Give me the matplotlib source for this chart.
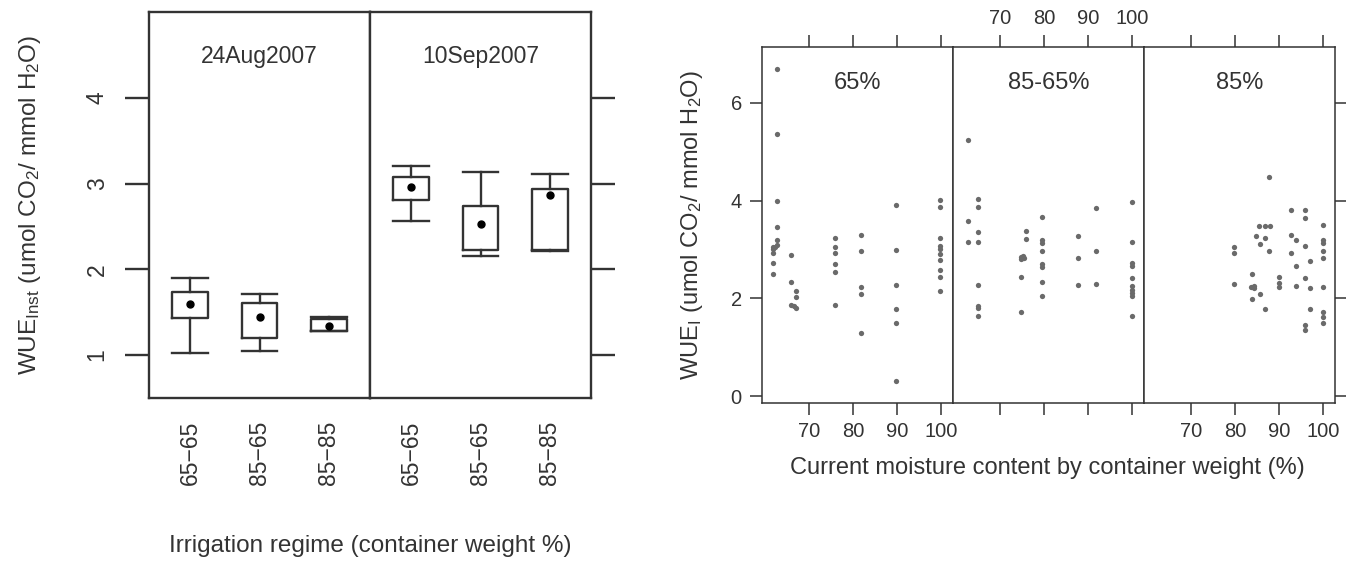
import matplotlib.pyplot as plt
import numpy as np

plt.rcParams["font.family"] = ["Liberation Sans", "DejaVu Sans"]
plt.rcParams["mathtext.default"] = "regular"

# left chart: box summaries per sampling date and irrigation regime
dates = ["24Aug2007", "10Sep2007"]
regimes = ["65\u221265", "85\u221265", "85\u221285"]
whis_hi = [[1.90, 1.71, 1.45], [3.21, 3.135, 3.11]]
q3 = [[1.735, 1.605, 1.42], [3.08, 2.735, 2.94]]
medians = [[1.60, 1.44, 1.345], [2.96, 2.53, 2.87]]
q1 = [[1.434, 1.196, 1.285], [2.81, 2.225, 2.225]]
whis_lo = [[1.03, 1.045, 1.285], [2.56, 2.16, 2.21]]

# right chart: WUE_I against current moisture content, one panel per regime
moist_65 = [62.8, 62.8, 62.8, 62.8, 62.8, 62.8,
            61.9, 61.9, 61.9, 61.9, 61.9, 62.3,
            66.0, 66.0, 66.0, 66.5, 67.0, 67.0, 67.0,
            75.8, 75.8, 75.8, 75.8, 75.8, 75.8,
            81.7, 81.7, 81.7, 81.7, 81.7,
            89.7, 89.7, 89.7, 89.7, 89.7, 89.7,
            99.8, 99.8, 99.8, 99.8, 99.8, 99.8, 99.8, 99.8, 99.8, 99.8]
wue_65 = [6.70, 5.37, 4.00, 3.45, 3.19, 3.09,
          3.04, 3.00, 2.93, 2.73, 2.50, 3.06,
          2.89, 2.34, 1.87, 1.84, 2.15, 2.03, 1.80,
          3.23, 3.04, 2.93, 2.70, 2.53, 1.86,
          3.29, 2.96, 2.23, 2.08, 1.30,
          3.90, 2.99, 2.28, 1.79, 1.49, 0.32,
          4.01, 3.86, 3.23, 3.08, 3.01, 2.91, 2.79, 2.58, 2.44, 2.15]

moist_8565 = [62.8, 62.8, 62.8,
              64.9, 64.9, 64.9, 64.9, 64.9, 64.9, 64.9, 64.9,
              74.7, 74.7, 74.7, 74.7, 75.2, 75.5, 75.8, 75.8,
              79.6, 79.6, 79.6, 79.6, 79.6, 79.6, 79.6, 79.6,
              87.7, 87.7, 87.7,
              91.9, 91.9, 91.9,
              99.9, 99.9, 99.9, 99.9, 99.9, 99.9, 99.9, 99.9, 99.9, 99.9]
wue_8565 = [5.24, 3.58, 3.15,
            4.04, 3.87, 3.35, 3.15, 2.27, 1.85, 1.80, 1.63,
            2.85, 2.80, 2.44, 1.72, 2.86, 2.82, 3.38, 3.22,
            3.67, 3.19, 3.13, 2.96, 2.70, 2.65, 2.33, 2.05,
            3.28, 2.82, 2.27,
            3.84, 2.96, 2.30,
            3.97, 3.15, 2.73, 2.66, 2.41, 2.25, 2.18, 2.11, 2.04, 1.63]

moist_85 = [79.7, 79.7, 79.7,
            83.9, 83.9, 84.3, 84.3, 83.7, 84.7,
            85.7, 85.7, 85.5, 86.8, 88.0, 86.8, 86.8,
            87.8, 87.8, 90.0, 90.0, 90.0,
            92.7, 92.7, 92.7, 93.9, 93.9, 93.9,
            95.9, 95.9, 95.9, 95.9, 95.9, 95.9,
            97.0, 97.0, 97.0,
            99.9, 99.9, 99.9, 99.9, 99.9, 99.9, 99.9, 99.9, 99.9]
wue_85 = [3.06, 2.93, 2.30,
          2.50, 1.98, 2.26, 2.21, 2.23, 3.28,
          3.11, 2.08, 3.47, 3.47, 3.47, 3.24, 1.79,
          4.49, 2.96, 2.44, 2.31, 2.23,
          3.80, 3.29, 2.92, 3.19, 2.66, 2.25,
          3.80, 3.64, 3.08, 2.41, 1.46, 1.36,
          2.77, 2.21, 1.79,
          3.49, 3.19, 3.13, 2.96, 2.83, 2.23, 1.73, 1.62, 1.49]

panel_names = ["65%", "85-65%", "85%"]
panel_x = [moist_65, moist_8565, moist_85]
panel_y = [wue_65, wue_8565, wue_85]

W, H = 1346, 562
fig = plt.figure(figsize=(W / 100, H / 100), dpi=100)
edge = "#333333"
text_col = "#333333"


def px_axes(x0, y0, x1, y1):
    # axes from pixel corners, origin top-left
    return fig.add_axes([x0 / W, 1 - y1 / H, (x1 - x0) / W, (y1 - y0) / H])


# ---- left chart: box plots ----
for i, date in enumerate(dates):
    ax = px_axes(149 + i * 221, 12, 149 + (i + 1) * 221, 398)
    stats = [
        dict(med=medians[i][j], q1=q1[i][j], q3=q3[i][j],
             whislo=whis_lo[i][j], whishi=whis_hi[i][j], fliers=[])
        for j in range(len(regimes))
    ]
    line = dict(color=edge, lw=1.7)
    ax.bxp(stats, positions=[1, 2, 3], widths=0.52, capwidths=0.52,
           showfliers=False, boxprops=line, whiskerprops=line,
           capprops=line, medianprops=dict(visible=False))
    ax.plot([1, 2, 3], medians[i], "o", color="black", ms=5)
    ax.set_xlim(0.4, 3.6)
    ax.set_ylim(0.5, 5.0)
    ax.text(0.5, 0.884, date, transform=ax.transAxes, ha="center",
            va="center", fontsize=16.5, color=text_col)

    ax.set_xticks([1, 2, 3])
    ax.set_xticklabels(regimes, rotation=90, fontsize=16.5, color=text_col)
    ax.tick_params(axis="x", length=0, pad=16)

    ax.set_yticks([1, 2, 3, 4])
    if i == 0:
        ax.set_yticklabels(["1", "2", "3", "4"], rotation=90, va="center",
                           fontsize=16.5, color=text_col)
        ax.tick_params(axis="y", length=17, width=1.7, color=edge, pad=12)
    else:
        ax.yaxis.tick_right()
        ax.tick_params(axis="y", length=17, width=1.7, color=edge,
                       labelright=False)
    for sp in ax.spines.values():
        sp.set_linewidth(1.7)
        sp.set_color(edge)

fig.text(30 / W, 1 - 205 / H, "WUE$_{Inst}$ (umol CO$_2$/ mmol H$_2$O)",
         rotation=90, ha="center", va="center", fontsize=17.5, color=text_col)
fig.text(370 / W, 1 - 546 / H, "Irrigation regime (container weight %)",
         ha="center", va="center", fontsize=17.5, color=text_col)

# ---- right chart: scatter panels ----
narrow = ["Liberation Sans Narrow", "Liberation Sans", "DejaVu Sans"]
for k, name in enumerate(panel_names):
    ax = px_axes(762 + k * 191, 47, 762 + (k + 1) * 191, 403)
    ax.plot(panel_x[k], panel_y[k], "o", color="#6a6a6a", ms=3.8, mec="none")
    ax.set_xlim(59.3, 102.7)
    ax.set_ylim(-0.14, 7.14)
    ax.text(0.5, 0.90, name, transform=ax.transAxes, ha="center",
            va="center", fontsize=17, color=text_col, family=narrow)

    ax.set_xticks([70, 80, 90, 100])
    ax.tick_params(axis="x", top=True, bottom=True, labeltop=(k == 1),
                   labelbottom=(k != 1), direction="out", length=8.5,
                   width=1.1, color=edge, pad=5)
    for lab in ax.get_xticklabels():
        lab.set_family(narrow)
        lab.set_fontsize(14.5)
        lab.set_color(text_col)

    ax.set_yticks([0, 2, 4, 6])
    if k == 0:
        ax.tick_params(axis="y", length=8.5, width=1.1, color=edge, pad=6)
        for lab in ax.get_yticklabels():
            lab.set_family(narrow)
            lab.set_fontsize(14.5)
            lab.set_color(text_col)
    elif k == 2:
        ax.yaxis.tick_right()
        ax.tick_params(axis="y", length=8.5, width=1.1, color=edge,
                       labelright=False)
    else:
        ax.tick_params(axis="y", left=False, labelleft=False)
    for sp in ax.spines.values():
        sp.set_linewidth(1.1)
        sp.set_color(edge)

fig.text(692 / W, 1 - 225 / H, "WUE$_I$ (umol CO$_2$/ mmol H$_2$O)",
         rotation=90, ha="center", va="center", fontsize=17, color=text_col,
         family=narrow)
fig.text(1047 / W, 1 - 468 / H,
         "Current moisture content by container weight (%)",
         ha="center", va="center", fontsize=17, color=text_col, family=narrow)

fig.savefig("out.png", dpi=100)
